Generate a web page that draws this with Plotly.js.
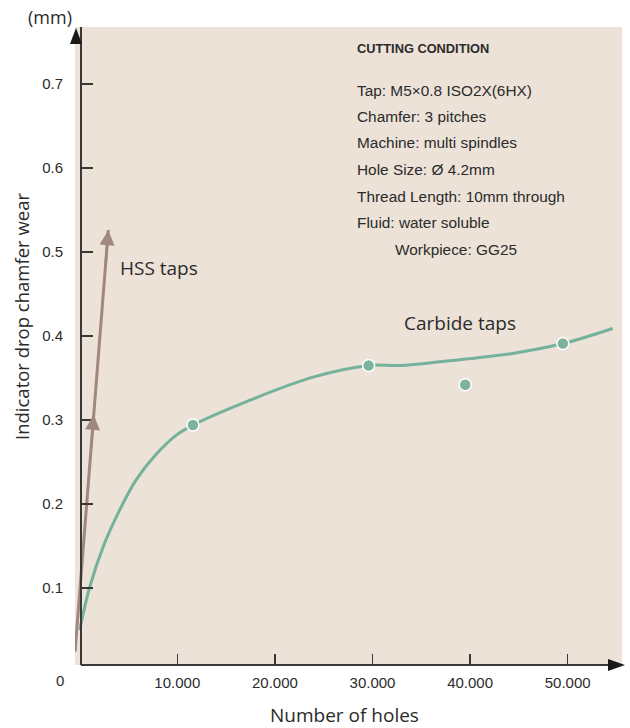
<!DOCTYPE html>
<html>
<head>
<meta charset="utf-8">
<script src="https://cdn.plot.ly/plotly-3.0.1.min.js"></script>
<style>html,body{margin:0;padding:0;background:#fff;}#chart{width:630px;height:728px;}</style>
</head>
<body>
<div id="chart"></div>
<script>
// ---- data ----
const carbideCurveX = [0, 1000, 2400, 4100, 5800, 7900, 9900, 11600, 17100, 23900, 29600, 32800, 37400, 44200, 49500, 54600];
const carbideCurveY = [0.05, 0.10, 0.149, 0.193, 0.229, 0.260, 0.282, 0.294, 0.322, 0.351, 0.365, 0.365, 0.370, 0.379, 0.391, 0.409];
const carbidePointsX = [11600, 29600, 39500, 49500];
const carbidePointsY = [0.294, 0.365, 0.342, 0.391];
const hssX = [-480, 2930];
const hssY = [0.024, 0.526];
const hssMidFraction = 0.562;
const xTickVals = [10000, 20000, 30000, 40000, 50000];
const xTickText = ["10.000", "20.000", "30.000", "40.000", "50.000"];
const yTickVals = [0.1, 0.2, 0.3, 0.4, 0.5, 0.6, 0.7];
const conditionTitle = "CUTTING CONDITION";
const conditionLines = ["Tap: M5×0.8 ISO2X(6HX)", "Chamfer: 3 pitches", "Machine: multi spindles", "Hole Size: Ø 4.2mm", "Thread Length: 10mm through", "Fluid: water soluble", "Workpiece: GG25"];

// ---- layout geometry ----
const W = 630, H = 728;
const M = {l: 75, r: 8, t: 27, b: 63};
const PW = W - M.l - M.r, PH = H - M.t - M.b;
const px = x => (x - M.l) / PW;
const py = y => (H - M.b - y) / PH;

const GREEN = '#74b29b', BROWN = '#a0877f', BEIGE = '#ece2d7', AX = '#3a3836', TXT = '#2b2b2b';
const NARROW = '"Liberation Sans", Arial, sans-serif';
const SANS = '"Open Sans", "Noto Sans", sans-serif';
const HELV = '"Liberation Sans", Arial, sans-serif';

const lerp = (a, b, f) => a + (b - a) * f;

const traces = [
  {x: hssX, y: hssY, mode: 'lines', line: {color: BROWN, width: 3}, hoverinfo: 'skip'},
  {x: carbideCurveX, y: carbideCurveY, mode: 'lines', line: {color: GREEN, width: 3, shape: 'spline', smoothing: 1}, hoverinfo: 'skip'},
  {x: carbidePointsX, y: carbidePointsY, mode: 'markers', marker: {size: 12, color: '#7db39d', line: {color: '#ffffff', width: 1.5}}, cliponaxis: false}
];

const annotations = [];
// HSS arrowheads
[[hssMidFraction, hssMidFraction - 0.08], [1, 0.92]].forEach(([ft, fa]) => {
  annotations.push({
    xref: 'x', yref: 'y', axref: 'x', ayref: 'y',
    x: lerp(hssX[0], hssX[1], ft), y: lerp(hssY[0], hssY[1], ft),
    ax: lerp(hssX[0], hssX[1], fa), ay: lerp(hssY[0], hssY[1], fa),
    text: '', showarrow: true, arrowhead: 2, arrowsize: 1.2, arrowwidth: 2.5, arrowcolor: BROWN, standoff: 0
  });
});
annotations.push({xref: 'paper', yref: 'paper', x: px(118), y: py(268), xanchor: 'left', yanchor: 'middle', text: 'HSS taps', showarrow: false, font: {family: SANS, size: 19, color: TXT}});
annotations.push({xref: 'paper', yref: 'paper', x: px(402), y: py(323), xanchor: 'left', yanchor: 'middle', text: 'Carbide taps', showarrow: false, font: {family: SANS, size: 19, color: TXT}});
annotations.push({xref: 'paper', yref: 'paper', x: px(355), y: py(49), xanchor: 'left', yanchor: 'middle', text: '<b>' + conditionTitle + '</b>', showarrow: false, font: {family: NARROW, size: 12.8, color: TXT}});
conditionLines.forEach((t, i) => {
  const indent = i === conditionLines.length - 1 ? 38 : 0;
  annotations.push({xref: 'paper', yref: 'paper', x: px(355 + indent), y: py(90 + i * 26.5), xanchor: 'left', yanchor: 'middle', text: t, showarrow: false, font: {family: NARROW, size: 15.4, color: TXT}});
});
annotations.push({xref: 'paper', yref: 'paper', x: px(50), y: py(17), xanchor: 'center', yanchor: 'middle', text: '(mm)', showarrow: false, font: {family: SANS, size: 18, color: TXT}});
annotations.push({xref: 'paper', yref: 'paper', x: px(60), y: py(680), xanchor: 'center', yanchor: 'middle', text: '0', showarrow: false, font: {family: HELV, size: 15, color: TXT}});
annotations.push({xref: 'paper', yref: 'paper', x: px(21), y: py(317), xanchor: 'center', yanchor: 'middle', textangle: -90, text: 'Indicator drop chamfer wear', showarrow: false, font: {family: SANS, size: 18.5, color: TXT}});
annotations.push({xref: 'paper', yref: 'paper', x: px(344), y: py(715), xanchor: 'center', yanchor: 'middle', text: 'Number of holes', showarrow: false, font: {family: SANS, size: 19, color: TXT}});

const shapes = [
  // x axis line
  {type: 'line', xref: 'paper', yref: 'paper', x0: px(81), x1: px(612), y0: 0, y1: 0, line: {color: AX, width: 2}},
  // x axis arrow
  {type: 'path', xref: 'paper', yref: 'paper', xsizemode: 'pixel', ysizemode: 'pixel', xanchor: px(608), yanchor: 0,
   path: 'M0,6 L17,0 L0,-6 Z', fillcolor: '#1a1a1a', line: {width: 0}},
  // y axis arrow
  {type: 'path', xref: 'paper', yref: 'paper', xsizemode: 'pixel', ysizemode: 'pixel', xanchor: px(76), yanchor: py(28),
   path: 'M-6,-16 L0,0 L6,-16 Z', fillcolor: '#1a1a1a', line: {width: 0}}
];

const layout = {
  width: W, height: H,
  margin: M,
  paper_bgcolor: '#ffffff', plot_bgcolor: BEIGE,
  showlegend: false,
  xaxis: {
    range: [-482, 55564], tickvals: xTickVals, ticktext: xTickText,
    ticks: 'inside', ticklen: 11, tickwidth: 1.5, tickcolor: AX,
    showline: false, zeroline: false, showgrid: false,
    tickfont: {family: HELV, size: 15, color: TXT}, ticklabelstandoff: 7, fixedrange: true
  },
  yaxis: {
    range: [0.00833, 0.7679], tickvals: yTickVals, ticktext: yTickVals.map(v => v.toFixed(1)),
    ticks: 'inside', ticklen: 11, tickwidth: 1.5, tickcolor: AX,
    showline: true, linecolor: AX, linewidth: 2,
    anchor: 'free', position: px(81),
    zeroline: false, showgrid: false,
    tickfont: {family: HELV, size: 15, color: TXT}, ticklabelstandoff: 14, fixedrange: true
  },
  annotations: annotations,
  shapes: shapes
};

Plotly.newPlot('chart', traces, layout, {displayModeBar: false, staticPlot: true});
</script>
</body>
</html>
